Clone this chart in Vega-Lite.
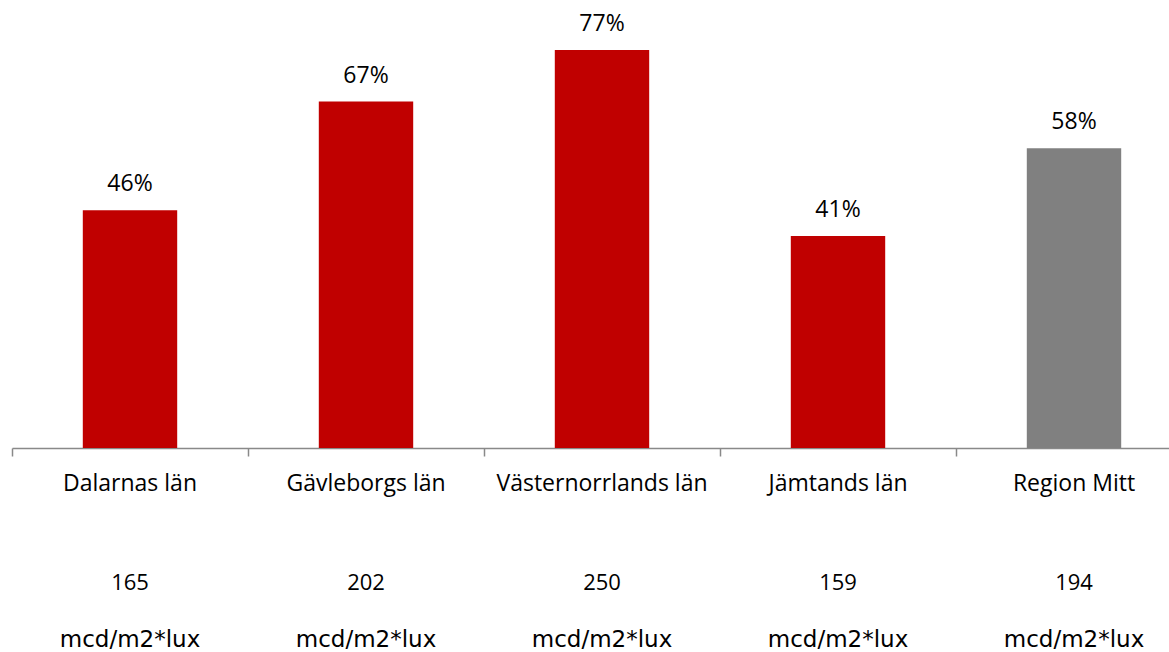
{
  "$schema": "https://vega.github.io/schema/vega-lite/v6.json",
  "width": 1157,
  "height": 448,
  "autosize": "none",
  "padding": {"left": 12, "top": 0, "right": 0, "bottom": 204},
  "background": "white",
  "config": {"view": {"stroke": null}, "font": "Open Sans"},
  "data": {
    "values": [
      {"cat": "Dalarnas län", "pct": 0.46, "lux": "165", "unit": "mcd/m2*lux", "grp": "county"},
      {"cat": "Gävleborgs län", "pct": 0.67, "lux": "202", "unit": "mcd/m2*lux", "grp": "county"},
      {"cat": "Västernorrlands län", "pct": 0.77, "lux": "250", "unit": "mcd/m2*lux", "grp": "county"},
      {"cat": "Jämtands län", "pct": 0.41, "lux": "159", "unit": "mcd/m2*lux", "grp": "county"},
      {"cat": "Region Mitt", "pct": 0.58, "lux": "194", "unit": "mcd/m2*lux", "grp": "region"}
    ]
  },
  "encoding": {
    "x": {
      "field": "cat",
      "type": "nominal",
      "sort": null,
      "scale": {"range": [0, 1180], "paddingInner": 0, "paddingOuter": 0},
      "axis": {
        "title": null,
        "labels": false,
        "bandPosition": 0,
        "grid": false,
        "domainColor": "#898989",
        "tickColor": "#898989",
        "tickSize": 8,
        "domainWidth": 1.5,
        "tickWidth": 1.5
      }
    }
  },
  "layer": [
    {
      "mark": {"type": "bar", "width": {"band": 0.4}},
      "encoding": {
        "y": {"field": "pct", "type": "quantitative", "scale": {"domain": [0, 0.8665], "nice": false}, "axis": null},
        "color": {"field": "grp", "type": "nominal", "scale": {"domain": ["county", "region"], "range": ["#C00000", "#808080"]}, "legend": null}
      }
    },
    {
      "mark": {"type": "text", "baseline": "bottom", "dy": -14, "fontSize": 23, "color": "#000000"},
      "encoding": {
        "y": {"field": "pct", "type": "quantitative"},
        "text": {"field": "pct", "type": "quantitative", "format": ".0%"}
      }
    },
    {
      "mark": {"type": "text", "baseline": "middle", "dy": 36, "fontSize": 23, "color": "#000000"},
      "encoding": {
        "y": {"datum": 0, "type": "quantitative"},
        "text": {"field": "cat"}
      }
    },
    {
      "mark": {"type": "text", "baseline": "middle", "dy": 135, "fontSize": 22, "color": "#000000"},
      "encoding": {
        "y": {"datum": 0, "type": "quantitative"},
        "text": {"field": "lux"}
      }
    },
    {
      "mark": {"type": "text", "baseline": "middle", "dy": 192, "fontSize": 23, "font": "DejaVu Sans", "color": "#000000"},
      "encoding": {
        "y": {"datum": 0, "type": "quantitative"},
        "text": {"field": "unit"}
      }
    }
  ]
}
